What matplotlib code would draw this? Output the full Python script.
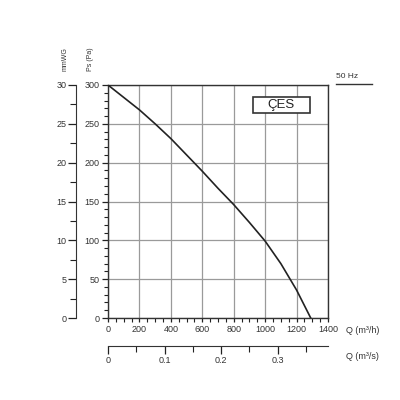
import numpy as np
import matplotlib.pyplot as plt
from matplotlib.ticker import MultipleLocator

plt.rcParams['font.family'] = ['Liberation Sans', 'DejaVu Sans']

# fan curve
q_m3h = [0, 100, 200, 300, 400, 500, 600, 700, 800, 900, 1000, 1100, 1200, 1290]
ps_pa = [300, 284, 268, 250, 231, 210, 189, 167, 146, 123, 99, 70, 36, 0]

q_ticks = [0, 200, 400, 600, 800, 1000, 1200, 1400]
qs_ticks = [0, 0.1, 0.2, 0.3]
pa_ticks = [0, 50, 100, 150, 200, 250, 300]
mm_ticks = [0, 5, 10, 15, 20, 25, 30]

txt = '#333333'
fs = 6.5

fig = plt.figure(figsize=(4, 4), dpi=100)
pos = [0.27, 0.205, 0.55, 0.5825]
ax = fig.add_axes(pos)

ax.plot(q_m3h, ps_pa, color='#222222', lw=1.2, zorder=3)
ax.set_xlim(0, 1400)
ax.set_ylim(0, 300)
ax.set_xticks(q_ticks)
ax.set_yticks(pa_ticks)
ax.xaxis.set_minor_locator(MultipleLocator(50))
ax.yaxis.set_minor_locator(MultipleLocator(10))
ax.grid(True, which='major', color='#9a9a9a', lw=0.9)
ax.tick_params(which='major', length=4, width=0.9, color='#222222',
               labelsize=fs, labelcolor=txt, pad=2)
ax.tick_params(which='minor', length=3, width=0.8, color='#222222')
ax.tick_params(axis='x', which='major', length=3)
for s in ax.spines.values():
    s.set_color('#333333')
    s.set_linewidth(1.0)

ax.text(1.082, -0.055, 'Q (m³/h)', transform=ax.transAxes, fontsize=fs,
        color=txt, ha='left', va='center')

# mmWG axis
ax2 = fig.add_axes(pos)
ax2.set_ylim(0, 30)
ax2.set_yticks(mm_ticks)
ax2.yaxis.set_minor_locator(MultipleLocator(2.5))
ax2.set_xticks([])
for k in ['top', 'right', 'bottom']:
    ax2.spines[k].set_visible(False)
ax2.spines['left'].set_position(('axes', -32 / 220))
ax2.spines['left'].set_color('#333333')
ax2.tick_params(which='major', length=6, width=0.9, color='#222222',
                labelsize=fs, labelcolor=txt, pad=1)
ax2.tick_params(which='minor', length=4, width=0.8, color='#222222')
ax2.patch.set_visible(False)

# second flow axis, m3/s
ax3 = fig.add_axes(pos)
ax3.set_xlim(0, 1400 / 3600)
ax3.set_xticks(qs_ticks)
ax3.set_xticklabels(['0', '0.1', '0.2', '0.3'])
ax3.xaxis.set_minor_locator(MultipleLocator(0.05))
ax3.set_yticks([])
for k in ['top', 'right', 'left']:
    ax3.spines[k].set_visible(False)
ax3.spines['bottom'].set_position(('axes', -28 / 233))
ax3.spines['bottom'].set_color('#333333')
ax3.tick_params(which='major', length=6, width=0.9, color='#222222',
                labelsize=fs, labelcolor=txt, pad=1)
ax3.tick_params(which='minor', length=4, width=0.8, color='#222222')
ax3.patch.set_visible(False)

ax.text(1.082, -0.167, 'Q (m³/s)', transform=ax.transAxes, fontsize=fs,
        color=txt, ha='left', va='center')

# axis titles
fig.text(65 / 400, 1 - 59 / 400, 'mmWG', rotation=90, fontsize=5,
         color=txt, ha='center', va='center')
fig.text(91 / 400, 1 - 59 / 400, 'Ps (Pa)', rotation=90, fontsize=5,
         color=txt, ha='center', va='center')

# 50 Hz label with underline
fig.text(336 / 400, 1 - 77 / 400, '50 Hz', fontsize=6, color=txt,
         ha='left', va='center')
fig.add_artist(plt.Line2D([336 / 400, 372 / 400], [1 - 84 / 400, 1 - 84 / 400],
                          color='#333333', lw=1.0))

# model box
ax.add_patch(plt.Rectangle((253 / 400, 1 - 113 / 400), 57 / 400, 16 / 400,
                           transform=fig.transFigure, fc='white',
                           ec='#333333', lw=1.2, zorder=5))
fig.text(281.5 / 400, 1 - 105 / 400, 'ÇES', fontsize=9.5, color='#222222',
         ha='center', va='center', zorder=6)

fig.savefig('out.png', dpi=100, facecolor='white')
